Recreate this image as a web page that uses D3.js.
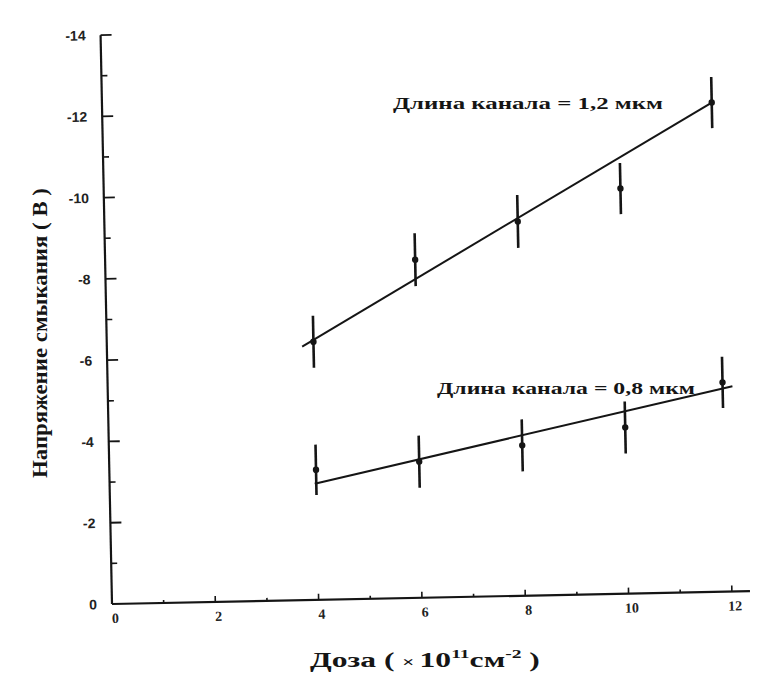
<!DOCTYPE html>
<html>
<head>
<meta charset="utf-8">
<script src="https://cdn.jsdelivr.net/npm/d3@7"></script>
<style>
  body { margin: 0; background: #fff; }
  svg { display: block; }
</style>
</head>
<body>
<svg id="chart" width="760" height="692"></svg>
<script>
// Dose axis (×10^11 cm^-2) and pinch-off voltage axis (V)
const doseTicks = [0, 2, 4, 6, 8, 10, 12];
const doseMinor = [1, 3, 5, 7, 9, 11];
const voltTicks = [0, -2, -4, -6, -8, -10, -12, -14];
const voltMinor = [-1, -3, -5, -7, -9, -11, -13];

// Channel length 1.2 µm
const doseA = [4, 6, 8, 10, 11.8];
const voltA = [-6.35, -8.32, -9.21, -9.97, -12.04];
const errA  = [0.64, 0.65, 0.65, 0.63, 0.63];
const fitA  = [[3.78, -6.24], [11.8, -12.04]];

// Channel length 0.8 µm
const doseB = [4, 6, 8, 10, 11.9];
const voltB = [-3.2, -3.35, -3.7, -4.09, -5.15];
const errB  = [0.62, 0.64, 0.64, 0.64, 0.63];
const fitB  = [[3.97, -2.86], [12.09, -5.05]];

const labelA = "Длина канала = 1,2 мкм";
const labelB = "Длина канала = 0,8 мкм";

const ox = 112, oy = 604;
const x = d3.scaleLinear().domain([0, 12]).range([ox, ox + 620]);
const y = d3.scaleLinear().domain([0, -14]).range([oy, oy - 569]);

const svg = d3.select("#chart");
const ink = "#151515";
const serif = "Liberation Serif, Times New Roman, serif";

// the whole plot sits slightly tilted on the page
const g = svg.append("g").attr("transform", `rotate(-1.15, ${ox}, ${oy})`);

// axes
g.append("line").attr("x1", ox).attr("y1", y(0)).attr("x2", ox).attr("y2", y(-14))
  .attr("stroke", ink).attr("stroke-width", 2.2);
g.append("line").attr("x1", ox).attr("y1", oy).attr("x2", x(12.35)).attr("y2", oy)
  .attr("stroke", ink).attr("stroke-width", 2.2);

// y ticks (pointing inward)
g.selectAll(".ytick").data(voltTicks.filter(d => d !== 0)).join("line")
  .attr("x1", ox).attr("x2", ox + 11).attr("y1", d => y(d)).attr("y2", d => y(d))
  .attr("stroke", ink).attr("stroke-width", 1.8);
g.selectAll(".yminor").data(voltMinor).join("line")
  .attr("x1", ox).attr("x2", ox + 6).attr("y1", d => y(d)).attr("y2", d => y(d))
  .attr("stroke", ink).attr("stroke-width", 1.6);
g.selectAll(".ylab").data(voltTicks).join("text")
  .attr("x", ox - 15).attr("y", d => y(d)).attr("dy", "0.36em")
  .attr("text-anchor", "end")
  .attr("font-family", "Liberation Sans, Arial, sans-serif")
  .attr("font-weight", "bold").attr("font-size", 14).attr("fill", "#222")
  .text(d => d === 0 ? "0" : "-" + Math.abs(d));

// x ticks
g.selectAll(".xtick").data(doseTicks.filter(d => d !== 0)).join("line")
  .attr("x1", d => x(d)).attr("x2", d => x(d)).attr("y1", oy).attr("y2", oy - 6)
  .attr("stroke", ink).attr("stroke-width", 1.6);
g.selectAll(".xminor").data(doseMinor).join("line")
  .attr("x1", d => x(d)).attr("x2", d => x(d)).attr("y1", oy).attr("y2", oy - 3)
  .attr("stroke", ink).attr("stroke-width", 1.6);
g.selectAll(".xlab").data(doseTicks).join("text")
  .attr("x", d => x(d) + 3).attr("y", oy + 19)
  .attr("text-anchor", "middle")
  .attr("font-family", serif)
  .attr("font-weight", "bold").attr("font-size", 14).attr("fill", "#222")
  .text(d => d);

// fitted lines
const line = d3.line().x(d => x(d[0])).y(d => y(d[1]));
[fitA, fitB].forEach(f => {
  g.append("path").attr("d", line(f)).attr("fill", "none")
    .attr("stroke", ink).attr("stroke-width", 2);
});

// measured points with error bars
function series(dose, volt, err) {
  const pts = dose.map((d, i) => ({ d, v: volt[i], e: err[i] }));
  g.selectAll(null).data(pts).join("line")
    .attr("x1", p => x(p.d)).attr("x2", p => x(p.d))
    .attr("y1", p => y(p.v + p.e)).attr("y2", p => y(p.v - p.e))
    .attr("stroke", ink).attr("stroke-width", 2.6);
  g.selectAll(null).data(pts).join("circle")
    .attr("cx", p => x(p.d)).attr("cy", p => y(p.v)).attr("r", 3.2)
    .attr("fill", ink);
}
series(doseA, voltA, errA);
series(doseB, voltB, errB);

// series labels (wide bold serif)
function wideText(parent, tx, ty, size, width, str) {
  return parent.append("text").attr("x", tx).attr("y", ty)
    .attr("font-family", serif).attr("font-weight", "bold").attr("font-size", size)
    .attr("fill", ink).attr("textLength", width).attr("lengthAdjust", "spacingAndGlyphs")
    .text(str);
}
wideText(svg, 393, 109, 17, 270, labelA);
wideText(svg, 437, 394, 17, 258, labelB);

// axis titles
const xt = svg.append("text").attr("x", 0).attr("y", 0)
  .attr("font-family", serif)
  .attr("font-weight", "bold").attr("font-size", 21).attr("fill", ink);
xt.append("tspan").text("Доза ( ");
xt.append("tspan").attr("font-size", 14).text("× ");
xt.append("tspan").text("10");
xt.append("tspan").attr("font-size", 13).attr("dy", -9).text("11");
xt.append("tspan").attr("dy", 9).text("см");
xt.append("tspan").attr("font-size", 13).attr("dy", -9).text("-2");
xt.append("tspan").attr("dy", 9).text(" )");
const xb = xt.node().getBBox();
const xs = 230 / xb.width;
xt.attr("transform", `translate(310, 667) scale(${xs}, 1)`);

svg.append("text").attr("transform", "translate(47, 333) rotate(-90)")
  .attr("text-anchor", "middle").attr("font-family", serif)
  .attr("font-weight", "bold").attr("font-size", 20).attr("fill", ink)
  .attr("textLength", 290).attr("lengthAdjust", "spacingAndGlyphs")
  .text("Напряжение смыкания ( В )");
</script>
</body>
</html>
